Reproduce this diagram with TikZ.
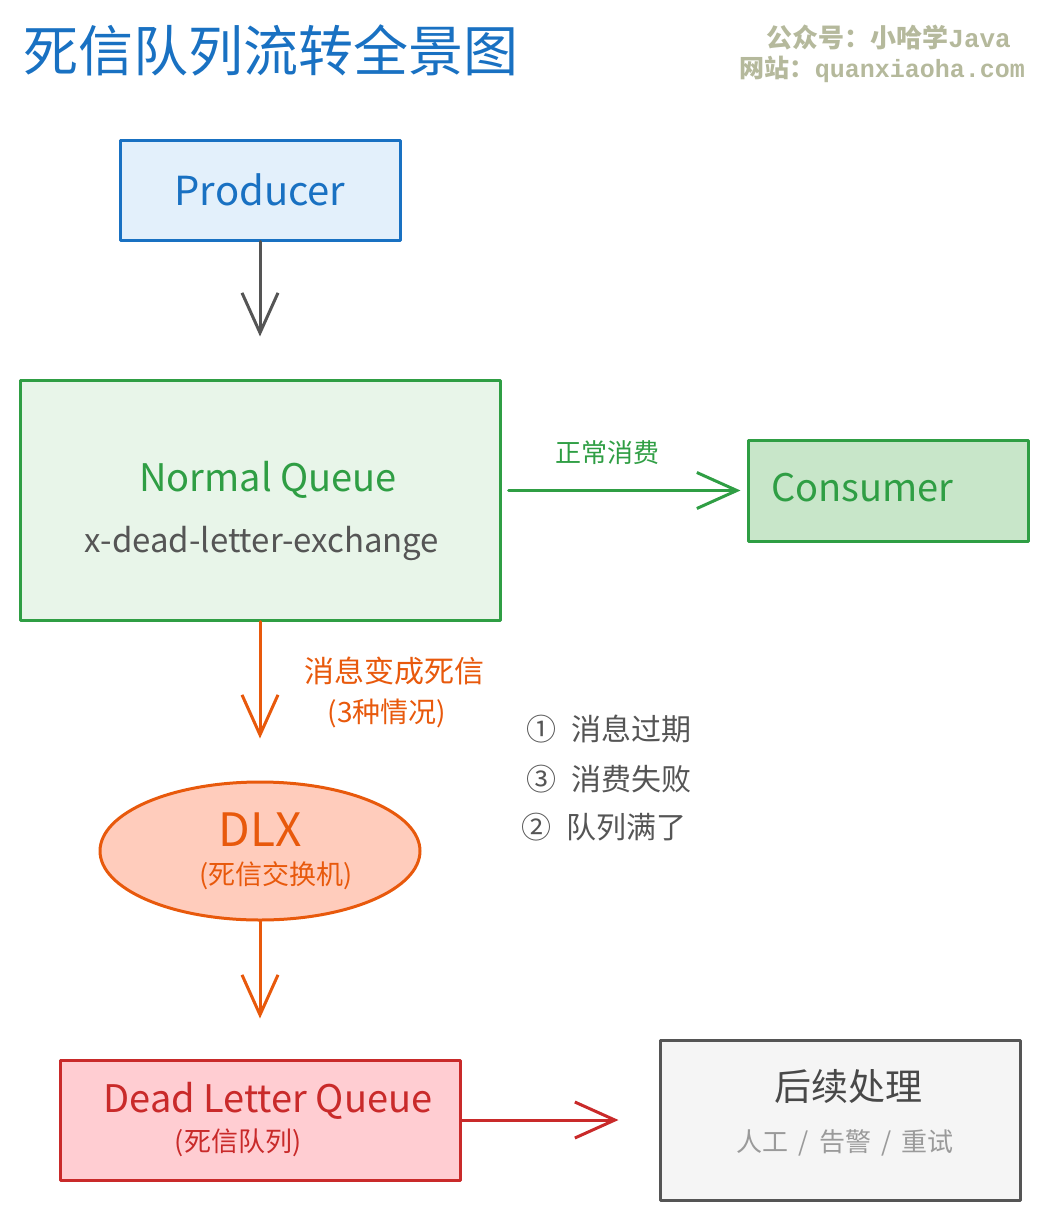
\documentclass[tikz,border=0pt]{standalone}
\usepackage{fontspec}
\setmainfont{Noto Sans CJK SC}
\newfontfamily\wmfont{Noto Sans CJK SC}
\newfontfamily\wmmono{Liberation Mono}
\usetikzlibrary{arrows.meta,shapes.geometric}

\definecolor{titleblue}{HTML}{1971C2}
\definecolor{prodfill}{HTML}{E3F0FB}
\definecolor{qgreen}{HTML}{2F9E44}
\definecolor{qfill}{HTML}{E8F5E9}
\definecolor{cfill}{HTML}{C8E6C9}
\definecolor{dlxorange}{HTML}{E8590C}
\definecolor{dlxfill}{HTML}{FFCCBC}
\definecolor{dlqred}{HTML}{C92A2A}
\definecolor{dlqfill}{HTML}{FFCDD2}
\definecolor{postgray}{HTML}{555555}
\definecolor{postfill}{HTML}{F5F5F5}
\definecolor{subgray}{HTML}{9A9A9A}
\definecolor{wmgray}{HTML}{B5B99C}

\begin{document}
\begin{tikzpicture}[x=1pt,y=-1pt,line cap=round,line join=round,
  every node/.style={inner sep=1pt},
  box/.style={draw,line width=3pt,inner sep=0pt},
  flow/.style={line width=3pt,-{Straight Barb[length=40pt,width=36pt]}},
  fs/.style={font=\fontsize{#1}{#1}\selectfont}]
  \useasboundingbox (0,0) rectangle (1048,1220);

  \node[fs=55,text=titleblue,anchor=west] (title) at (22,50) {死信队列流转全景图};
  \node[fs=26,text=wmgray,anchor=east] (wm1) at (1012,38) {\wmfont\bfseries 公众号：小哈学{\wmmono\bfseries Java}};
  \node[fs=25,text=wmgray,anchor=east] (wm2) at (1026,69) {\wmfont\bfseries 网站：{\wmmono\bfseries quanxiaoha.com}};

  \node[box,draw=titleblue,fill=prodfill,minimum width=280,minimum height=100,fs=40,text=titleblue] (producer) at (260,190) {Producer};

  \node[box,draw=qgreen,fill=qfill,minimum width=480,minimum height=240] (normal) at (260,500) {};
  \node[fs=38,text=qgreen] (normaltxt) at (268,480) {Normal Queue};
  \node[fs=33,text=postgray] (normalsub) at (262,543) {x-dead-letter-exchange};

  \node[box,draw=qgreen,fill=cfill,minimum width=280,minimum height=101] (consumer) at (888,490.5) {};
  \node[fs=38,text=qgreen,anchor=west] (consumertxt) at (770,488) {Consumer};

  \node[box,ellipse,draw=dlxorange,fill=dlxfill,minimum width=320,minimum height=138] (dlx) at (260,851) {};
  \node[fs=46,text=dlxorange] (dlxtxt) at (260,830) {DLX};
  \node[fs=27,text=dlxorange] (dlxsub) at (276,876) {(死信交换机)};

  \node[box,draw=dlqred,fill=dlqfill,minimum width=400,minimum height=120] (dlq) at (260,1120) {};
  \node[fs=38,text=dlqred] (dlqtxt) at (268,1101) {Dead Letter Queue};
  \node[fs=27,text=dlqred] (dlqsub) at (238,1143) {(死信队列)};

  \node[box,draw=postgray,fill=postfill,minimum width=360,minimum height=160] (post) at (840,1120) {};
  \node[fs=37,text=postgray!85!black] (posttxt) at (848,1086) {后续处理};
  \node[fs=26,text=subgray] (postsub) at (845,1143) {人工 \,/\, 告警 \,/\, 重试};

  \draw[flow,draw=postgray] (producer) -- (normal) [shorten >=42pt];
  \draw[flow,draw=qgreen,shorten <=7pt,shorten >=6pt] (normal.east |- consumer.west) -- (consumer.west);
  \node[fs=26,text=qgreen] (lblconsume) at (607,453) {正常消费};

  \draw[flow,draw=dlxorange,shorten >=42pt] (normal) -- (dlx);
  \node[fs=30,text=dlxorange] (lbldead) at (394,671) {消息变成死信};
  \node[fs=28,text=dlxorange] (lblcases) at (387,713) {(3种情况)};

  \node[fs=30,text=postgray,anchor=west] (case1) at (525,729) {①\enspace 消息过期};
  \node[fs=30,text=postgray,anchor=west] (case3) at (525,779) {③\enspace 消费失败};
  \node[fs=30,text=postgray,anchor=west] (case2) at (520,827) {②\enspace 队列满了};

  \draw[flow,draw=dlxorange,shorten >=40pt] (dlx) -- (dlq);
  \draw[flow,draw=dlqred,shorten >=40pt] (dlq) -- (post);
\end{tikzpicture}
\end{document}
